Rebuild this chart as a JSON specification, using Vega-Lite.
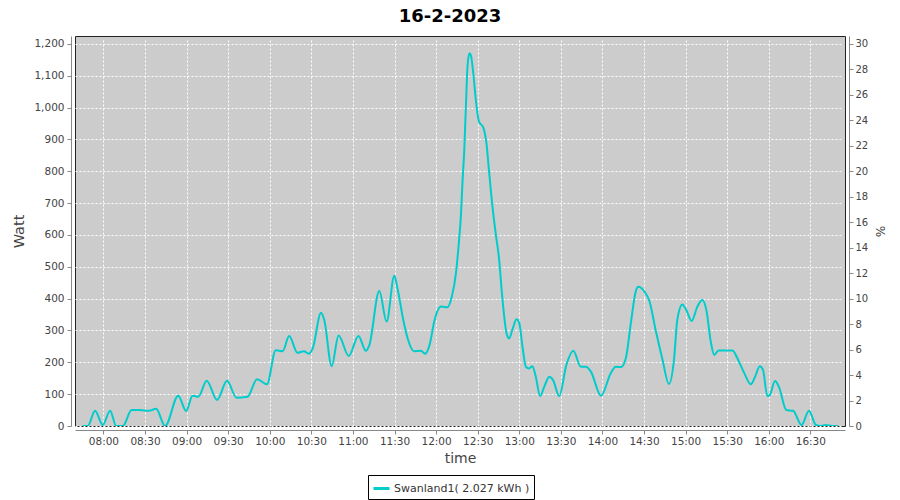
{
  "$schema": "https://vega.github.io/schema/vega-lite/v6.json",
  "width": 770,
  "height": 390,
  "autosize": {"type": "none"},
  "padding": {"left": 75, "top": 36, "right": 54, "bottom": 74},
  "background": "white",
  "title": {"text": "16-2-2023", "font": "DejaVu Sans", "fontSize": 18, "fontWeight": "bold", "color": "#000000", "anchor": "middle", "dx": -10, "offset": 10},
  "config": {
    "view": {"fill": "#cccccc", "stroke": "#222222", "strokeWidth": 1},
    "axis": {
      "domainColor": "#888888", "tickColor": "#888888", "labelColor": "#444444", "titleColor": "#444444",
      "labelFont": "DejaVu Sans", "titleFont": "DejaVu Sans", "labelFontSize": 10.5, "titleFontSize": 13,
      "titleFontWeight": "normal", "offset": 4, "tickSize": 4, "gridColor": "#ffffff", "gridDash": [2, 2],
      "gridOpacity": 1, "gridWidth": 1, "domainWidth": 1, "labelPadding": 3, "titlePadding": 6
    }
  },
  "data": {"values": [
    {"time": "2023-02-16T07:45:00Z", "watt": 0},
    {"time": "2023-02-16T07:48:40Z", "watt": 0},
    {"time": "2023-02-16T07:54:00Z", "watt": 48},
    {"time": "2023-02-16T07:59:30Z", "watt": 3},
    {"time": "2023-02-16T08:04:50Z", "watt": 48},
    {"time": "2023-02-16T08:09:10Z", "watt": 0},
    {"time": "2023-02-16T08:14:00Z", "watt": 0},
    {"time": "2023-02-16T08:20:20Z", "watt": 50},
    {"time": "2023-02-16T08:26:00Z", "watt": 50},
    {"time": "2023-02-16T08:33:00Z", "watt": 48},
    {"time": "2023-02-16T08:38:00Z", "watt": 54},
    {"time": "2023-02-16T08:44:30Z", "watt": 0},
    {"time": "2023-02-16T08:54:00Z", "watt": 95},
    {"time": "2023-02-16T08:59:40Z", "watt": 47},
    {"time": "2023-02-16T09:04:20Z", "watt": 95},
    {"time": "2023-02-16T09:08:30Z", "watt": 92},
    {"time": "2023-02-16T09:14:30Z", "watt": 142},
    {"time": "2023-02-16T09:22:00Z", "watt": 82},
    {"time": "2023-02-16T09:29:10Z", "watt": 142},
    {"time": "2023-02-16T09:36:00Z", "watt": 89},
    {"time": "2023-02-16T09:44:00Z", "watt": 92},
    {"time": "2023-02-16T09:50:50Z", "watt": 147},
    {"time": "2023-02-16T09:58:00Z", "watt": 131},
    {"time": "2023-02-16T10:04:20Z", "watt": 238},
    {"time": "2023-02-16T10:09:20Z", "watt": 235},
    {"time": "2023-02-16T10:14:00Z", "watt": 283},
    {"time": "2023-02-16T10:20:00Z", "watt": 230},
    {"time": "2023-02-16T10:24:40Z", "watt": 235},
    {"time": "2023-02-16T10:28:10Z", "watt": 227},
    {"time": "2023-02-16T10:31:00Z", "watt": 244},
    {"time": "2023-02-16T10:37:00Z", "watt": 356},
    {"time": "2023-02-16T10:39:20Z", "watt": 333},
    {"time": "2023-02-16T10:44:40Z", "watt": 188},
    {"time": "2023-02-16T10:49:40Z", "watt": 284},
    {"time": "2023-02-16T10:57:00Z", "watt": 220},
    {"time": "2023-02-16T11:04:00Z", "watt": 283},
    {"time": "2023-02-16T11:09:20Z", "watt": 236},
    {"time": "2023-02-16T11:11:50Z", "watt": 254},
    {"time": "2023-02-16T11:19:00Z", "watt": 424},
    {"time": "2023-02-16T11:24:20Z", "watt": 328},
    {"time": "2023-02-16T11:29:50Z", "watt": 472},
    {"time": "2023-02-16T11:32:10Z", "watt": 432},
    {"time": "2023-02-16T11:36:20Z", "watt": 333},
    {"time": "2023-02-16T11:39:30Z", "watt": 275},
    {"time": "2023-02-16T11:44:10Z", "watt": 235},
    {"time": "2023-02-16T11:49:00Z", "watt": 236},
    {"time": "2023-02-16T11:52:10Z", "watt": 227},
    {"time": "2023-02-16T11:55:30Z", "watt": 258},
    {"time": "2023-02-16T11:58:40Z", "watt": 328},
    {"time": "2023-02-16T12:03:30Z", "watt": 375},
    {"time": "2023-02-16T12:08:10Z", "watt": 373},
    {"time": "2023-02-16T12:11:20Z", "watt": 406},
    {"time": "2023-02-16T12:14:20Z", "watt": 480},
    {"time": "2023-02-16T12:16:10Z", "watt": 563},
    {"time": "2023-02-16T12:18:00Z", "watt": 668},
    {"time": "2023-02-16T12:19:00Z", "watt": 762},
    {"time": "2023-02-16T12:20:20Z", "watt": 867},
    {"time": "2023-02-16T12:21:30Z", "watt": 1003},
    {"time": "2023-02-16T12:22:40Z", "watt": 1129},
    {"time": "2023-02-16T12:24:00Z", "watt": 1171},
    {"time": "2023-02-16T12:25:00Z", "watt": 1166},
    {"time": "2023-02-16T12:26:50Z", "watt": 1108},
    {"time": "2023-02-16T12:28:40Z", "watt": 1024},
    {"time": "2023-02-16T12:31:00Z", "watt": 956},
    {"time": "2023-02-16T12:34:00Z", "watt": 938},
    {"time": "2023-02-16T12:36:20Z", "watt": 888},
    {"time": "2023-02-16T12:38:20Z", "watt": 794},
    {"time": "2023-02-16T12:40:40Z", "watt": 689},
    {"time": "2023-02-16T12:43:00Z", "watt": 605},
    {"time": "2023-02-16T12:45:30Z", "watt": 522},
    {"time": "2023-02-16T12:47:30Z", "watt": 417},
    {"time": "2023-02-16T12:49:10Z", "watt": 343},
    {"time": "2023-02-16T12:50:50Z", "watt": 291},
    {"time": "2023-02-16T12:52:40Z", "watt": 275},
    {"time": "2023-02-16T12:55:00Z", "watt": 302},
    {"time": "2023-02-16T12:58:00Z", "watt": 335},
    {"time": "2023-02-16T13:00:00Z", "watt": 323},
    {"time": "2023-02-16T13:02:20Z", "watt": 249},
    {"time": "2023-02-16T13:04:50Z", "watt": 185},
    {"time": "2023-02-16T13:07:00Z", "watt": 181},
    {"time": "2023-02-16T13:09:30Z", "watt": 188},
    {"time": "2023-02-16T13:12:00Z", "watt": 153},
    {"time": "2023-02-16T13:15:00Z", "watt": 94},
    {"time": "2023-02-16T13:18:00Z", "watt": 123},
    {"time": "2023-02-16T13:21:40Z", "watt": 155},
    {"time": "2023-02-16T13:24:20Z", "watt": 145},
    {"time": "2023-02-16T13:28:50Z", "watt": 94},
    {"time": "2023-02-16T13:34:00Z", "watt": 192},
    {"time": "2023-02-16T13:39:00Z", "watt": 236},
    {"time": "2023-02-16T13:44:20Z", "watt": 186},
    {"time": "2023-02-16T13:48:00Z", "watt": 186},
    {"time": "2023-02-16T13:51:40Z", "watt": 171},
    {"time": "2023-02-16T13:59:00Z", "watt": 95},
    {"time": "2023-02-16T14:06:00Z", "watt": 166},
    {"time": "2023-02-16T14:09:40Z", "watt": 186},
    {"time": "2023-02-16T14:13:30Z", "watt": 185},
    {"time": "2023-02-16T14:17:00Z", "watt": 215},
    {"time": "2023-02-16T14:20:30Z", "watt": 323},
    {"time": "2023-02-16T14:24:00Z", "watt": 422},
    {"time": "2023-02-16T14:26:00Z", "watt": 437},
    {"time": "2023-02-16T14:30:00Z", "watt": 424},
    {"time": "2023-02-16T14:34:00Z", "watt": 391},
    {"time": "2023-02-16T14:38:30Z", "watt": 299},
    {"time": "2023-02-16T14:43:10Z", "watt": 212},
    {"time": "2023-02-16T14:48:00Z", "watt": 132},
    {"time": "2023-02-16T14:51:40Z", "watt": 210},
    {"time": "2023-02-16T14:54:00Z", "watt": 333},
    {"time": "2023-02-16T14:57:40Z", "watt": 382},
    {"time": "2023-02-16T15:00:30Z", "watt": 364},
    {"time": "2023-02-16T15:04:20Z", "watt": 330},
    {"time": "2023-02-16T15:08:30Z", "watt": 375},
    {"time": "2023-02-16T15:12:00Z", "watt": 396},
    {"time": "2023-02-16T15:15:00Z", "watt": 364},
    {"time": "2023-02-16T15:18:10Z", "watt": 265},
    {"time": "2023-02-16T15:20:40Z", "watt": 223},
    {"time": "2023-02-16T15:23:40Z", "watt": 237},
    {"time": "2023-02-16T15:33:50Z", "watt": 237},
    {"time": "2023-02-16T15:37:20Z", "watt": 213},
    {"time": "2023-02-16T15:42:20Z", "watt": 166},
    {"time": "2023-02-16T15:47:00Z", "watt": 131},
    {"time": "2023-02-16T15:50:10Z", "watt": 155},
    {"time": "2023-02-16T15:53:30Z", "watt": 188},
    {"time": "2023-02-16T15:55:50Z", "watt": 176},
    {"time": "2023-02-16T15:59:00Z", "watt": 94},
    {"time": "2023-02-16T16:00:40Z", "watt": 97},
    {"time": "2023-02-16T16:04:30Z", "watt": 141},
    {"time": "2023-02-16T16:07:20Z", "watt": 123},
    {"time": "2023-02-16T16:12:40Z", "watt": 50},
    {"time": "2023-02-16T16:17:30Z", "watt": 48},
    {"time": "2023-02-16T16:23:40Z", "watt": 3},
    {"time": "2023-02-16T16:29:00Z", "watt": 48},
    {"time": "2023-02-16T16:34:00Z", "watt": 3},
    {"time": "2023-02-16T16:37:40Z", "watt": 0},
    {"time": "2023-02-16T16:41:00Z", "watt": 3},
    {"time": "2023-02-16T16:45:40Z", "watt": 0},
    {"time": "2023-02-16T16:50:00Z", "watt": 0}
  ]},
  "layer": [
    {
      "mark": {"type": "line", "interpolate": "monotone", "strokeWidth": 2, "clip": true},
      "encoding": {
        "x": {
          "field": "time", "type": "temporal",
          "scale": {"type": "utc", "domain": [1676533170000, 1676566500000]},
          "axis": {"title": "time", "format": "%H:%M", "tickCount": 18, "grid": true, "labelPadding": 2, "titleFontSize": 14, "titlePadding": 5}
        },
        "y": {
          "field": "watt", "type": "quantitative",
          "scale": {"domain": [0, 1225], "nice": false},
          "axis": {"title": "Watt", "values": [0, 100, 200, 300, 400, 500, 600, 700, 800, 900, 1000, 1100, 1200], "format": ",d", "grid": true, "titleFontSize": 14.5, "titlePadding": 7}
        },
        "color": {
          "datum": "Swanland1( 2.027 kWh )", "type": "nominal",
          "scale": {"range": ["#00cccc"]},
          "legend": {
            "orient": "none", "legendX": 293, "legendY": 439, "title": null,
            "symbolType": "stroke", "symbolStrokeWidth": 3, "symbolSize": 256,
            "strokeColor": "#000000", "fillColor": "#ffffff", "padding": 4,
            "labelFont": "DejaVu Sans", "labelFontSize": 11, "labelColor": "#333333", "labelOffset": 3
          }
        }
      }
    },
    {
      "mark": {"type": "line", "opacity": 0},
      "encoding": {
        "x": {"field": "time", "type": "temporal"},
        "y": {
          "field": "watt", "type": "quantitative",
          "axis": {"orient": "right", "title": "%", "values": [0, 80, 160, 240, 320, 400, 480, 560, 640, 720, 800, 880, 960, 1040, 1120, 1200], "labelExpr": "format(datum.value / 40, 'd')", "grid": false, "labelFontSize": 10, "labelPadding": 2, "titleFontSize": 12, "titleAngle": 90, "titlePadding": 5}
        }
      }
    }
  ],
  "resolve": {"axis": {"y": "independent"}}
}
